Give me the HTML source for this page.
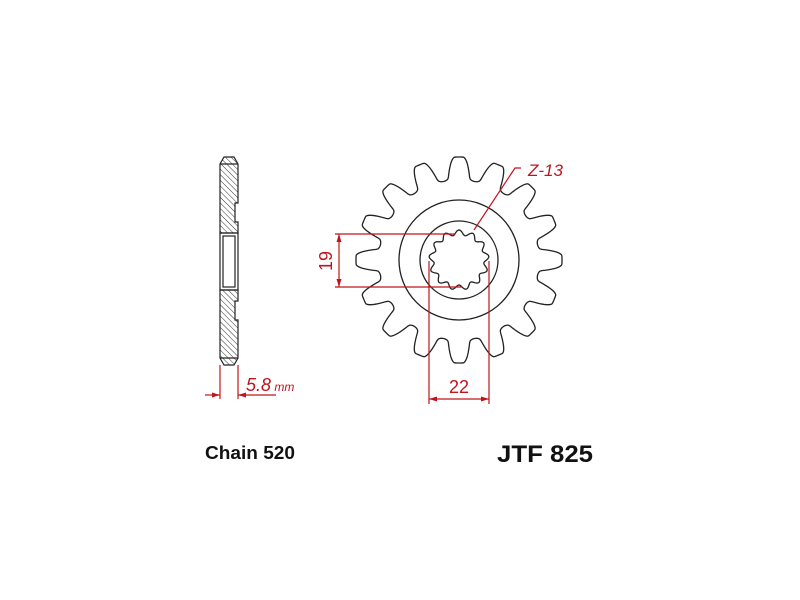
<!DOCTYPE html>
<html><head><meta charset="utf-8"><style>html,body{margin:0;padding:0;background:#fff}svg{display:block}</style></head>
<body>
<svg id="s" width="800" height="600" viewBox="0 0 800 600" xmlns="http://www.w3.org/2000/svg">
<defs>
<pattern id="h" width="4" height="4" patternUnits="userSpaceOnUse" patternTransform="rotate(-45)">
<line x1="0" y1="0" x2="0" y2="4" stroke="#333" stroke-width="1"/>
</pattern>
</defs>
<g stroke="#222" stroke-width="1.2" fill="url(#h)">
<path d="M224,157 L234,157 L238,164 L238,203 L235,203 L235,222 L238,222 L238,233 L220,233 L220,164 Z"/>
<path d="M220,290 L238,290 L238,301 L235,301 L235,320 L238,320 L238,358 L234,365 L224,365 L220,358 Z"/>
</g>
<g stroke="#222" stroke-width="1.2" fill="none">
<rect x="220" y="233" width="18" height="57"/>
<rect x="223" y="236" width="12" height="51"/>
<line x1="220" y1="164" x2="238" y2="164"/>
<line x1="220" y1="358" x2="238" y2="358"/>
</g>
<g stroke="#c0141c" stroke-width="1.2" fill="#c0141c">
<line x1="220" y1="365" x2="220" y2="399"/>
<line x1="238" y1="365" x2="238" y2="399"/>
<line x1="205" y1="395" x2="220" y2="395"/>
<line x1="238" y1="395" x2="276" y2="395"/>
<path d="M220,395 l-8,-2.5 l0,5 z" stroke="none"/>
<path d="M238,395 l8,-2.5 l0,5 z" stroke="none"/>
</g>
<text x="246" y="391" fill="#c0141c" font-family="Liberation Sans, sans-serif" font-style="italic" font-size="18">5.8<tspan font-size="12"> mm</tspan></text>
<path id="sp" fill="none" stroke="#222" stroke-width="1.3"/>
<circle cx="459" cy="260" r="60" fill="none" stroke="#222" stroke-width="1.3"/>
<circle cx="459" cy="260" r="39" fill="none" stroke="#222" stroke-width="1.3"/>
<path id="spl" fill="none" stroke="#222" stroke-width="1.3"/>
<g stroke="#c0141c" stroke-width="1.2" fill="#c0141c">
<line x1="335" y1="234" x2="455" y2="234"/>
<line x1="335" y1="287" x2="462" y2="287"/>
<line x1="339" y1="234" x2="339" y2="287"/>
<path d="M339,234 l-2.5,8 l5,0 z" stroke="none"/>
<path d="M339,287 l-2.5,-8 l5,0 z" stroke="none"/>
<line x1="429" y1="261" x2="429" y2="404"/>
<line x1="489" y1="261" x2="489" y2="404"/>
<line x1="429" y1="399" x2="489" y2="399"/>
<path d="M429,399 l8,-2.5 l0,5 z" stroke="none"/>
<path d="M489,399 l-8,-2.5 l0,5 z" stroke="none"/>
<polyline points="474,230 515,168 521,168" fill="none"/>
</g>
<g fill="#c0141c" font-family="Liberation Sans, sans-serif" font-size="18">
<text x="0" y="0" transform="translate(332,261) rotate(-90)" text-anchor="middle">19</text>
<text x="459" y="393" text-anchor="middle">22</text>
<text x="528" y="176" font-style="italic" font-size="17">Z-13</text>
</g>
<text x="205" y="459" font-family="Liberation Sans, sans-serif" font-weight="bold" font-size="18" textLength="90" lengthAdjust="spacingAndGlyphs" fill="#111">Chain 520</text>
<text x="497" y="462" font-family="Liberation Sans, sans-serif" font-weight="bold" font-size="24" textLength="96" lengthAdjust="spacingAndGlyphs" fill="#111">JTF 825</text>
</svg>
<script>
(function(){
var cx=459,cy=260,N=16,Rt=103,Rr=80,d=[],i,a,ph,t,r,x,y;
var steps=N*40;
for(i=0;i<=steps;i++){
 a=i/steps*2*Math.PI;
 ph=(a*N/(2*Math.PI))%1;
 t=Math.abs(ph-0.5)*2;
 if(t>0.8) r=Rt;
 else if(t<0.35){ var u2=t/0.35; r=Rr+(Rt-Rr)*0.15*(1-Math.sqrt(1-u2*u2)); }
 else { var u=(t-0.35)/0.45; r=Rr+(Rt-Rr)*(0.15+0.85*Math.sin(u*Math.PI/2)); }
 x=cx+r*Math.sin(a);y=cy-r*Math.cos(a);
 d.push((i?'L':'M')+x.toFixed(2)+','+y.toFixed(2));
}
document.getElementById('sp').setAttribute('d',d.join('')+'Z');
var M=13,d2=[];steps=M*30;
for(i=0;i<=steps;i++){
 a=i/steps*2*Math.PI;
 r=27.5+2.5*Math.cos(M*a);
 x=cx+r*Math.sin(a);y=cy-r*Math.cos(a);
 d2.push((i?'L':'M')+x.toFixed(2)+','+y.toFixed(2));
}
document.getElementById('spl').setAttribute('d',d2.join('')+'Z');
})();
</script>
</body></html>
